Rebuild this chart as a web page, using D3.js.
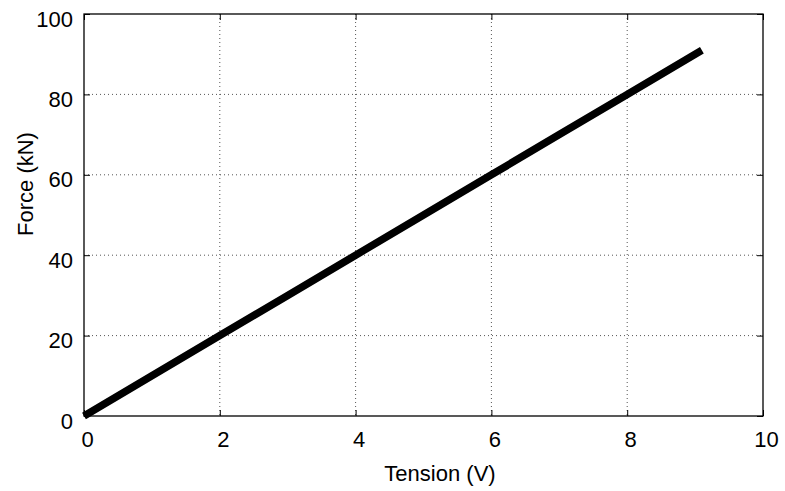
<!DOCTYPE html>
<html><head><meta charset="utf-8">
<script src="https://cdn.jsdelivr.net/npm/d3@7"></script>
<style>body{margin:0;background:#fff;} text{font-family:"Liberation Sans",Arial,sans-serif;}</style>
</head><body>
<svg id="c" width="785" height="491"></svg>
<script>
const tension = [0, 1, 2, 3, 4, 5, 6, 7, 8, 9, 9.1];
const force   = [0, 10, 20, 30, 40, 50, 60, 70, 80, 90, 91];
const xTicks = [0, 2, 4, 6, 8, 10];
const yTicks = [0, 20, 40, 60, 80, 100];
const xLabel = "Tension (V)";
const yLabel = "Force (kN)";

const svg = d3.select("#c");
const L = 84, R = 763, T = 14, B = 416;
const x = d3.scaleLinear().domain([0, 10]).range([L, R]);
const y = d3.scaleLinear().domain([0, 100]).range([B, T]);

// grid
const g = svg.append("g");
g.selectAll(".gx").data(xTicks.slice(1, -1)).enter().append("line")
  .attr("x1", d => x(d)).attr("x2", d => x(d)).attr("y1", T).attr("y2", B)
  .attr("stroke", "#555").attr("stroke-width", 1).attr("stroke-dasharray", "1,3");
g.selectAll(".gy").data(yTicks.slice(1, -1)).enter().append("line")
  .attr("y1", d => y(d)).attr("y2", d => y(d)).attr("x1", L).attr("x2", R)
  .attr("stroke", "#555").attr("stroke-width", 1).attr("stroke-dasharray", "1,3");

// axes (inward ticks)
const fs = 22;
const ax = svg.append("g").attr("transform", `translate(0,${B})`)
  .call(d3.axisBottom(x).tickValues(xTicks).tickSizeInner(-6).tickSizeOuter(0).tickPadding(15));
const ay = svg.append("g").attr("transform", `translate(${L},0)`)
  .call(d3.axisLeft(y).tickValues(yTicks).tickSizeInner(-6).tickSizeOuter(0).tickPadding(11));
const at = svg.append("g").attr("transform", `translate(0,${T})`)
  .call(d3.axisTop(x).tickValues(xTicks).tickSizeInner(-6).tickSizeOuter(0).tickFormat(""));
const ar = svg.append("g").attr("transform", `translate(${R},0)`)
  .call(d3.axisRight(y).tickValues(yTicks).tickSizeInner(-6).tickSizeOuter(0).tickFormat(""));
[ax, ay, at, ar].forEach(a => {
  a.select(".domain").remove();
  a.selectAll("line").attr("stroke", "#000").attr("stroke-width", 1);
  a.selectAll("text").attr("font-size", fs).attr("fill", "#000")
   .style("font-family", '"Liberation Sans",Arial,sans-serif');
});
ax.selectAll("text").attr("dx", 3);
ay.selectAll("text").attr("dy", "0.55em");
svg.append("rect").attr("x", L).attr("y", T).attr("width", R - L).attr("height", B - T)
  .attr("fill", "none").attr("stroke", "#000").attr("stroke-width", 1.3);

// data line
const line = d3.line().x((d, i) => x(tension[i])).y(d => y(d));
svg.append("path").datum(force).attr("d", line)
  .attr("fill", "none").attr("stroke", "#000").attr("stroke-width", 7.5).attr("stroke-linecap", "butt");

// labels
svg.append("text").attr("x", 440).attr("y", 481).attr("text-anchor", "middle")
  .attr("font-size", 22).text(xLabel);
svg.append("text").attr("transform", `translate(33,184) rotate(-90)`)
  .attr("text-anchor", "middle").attr("font-size", 22).text(yLabel);
</script>
</body></html>
